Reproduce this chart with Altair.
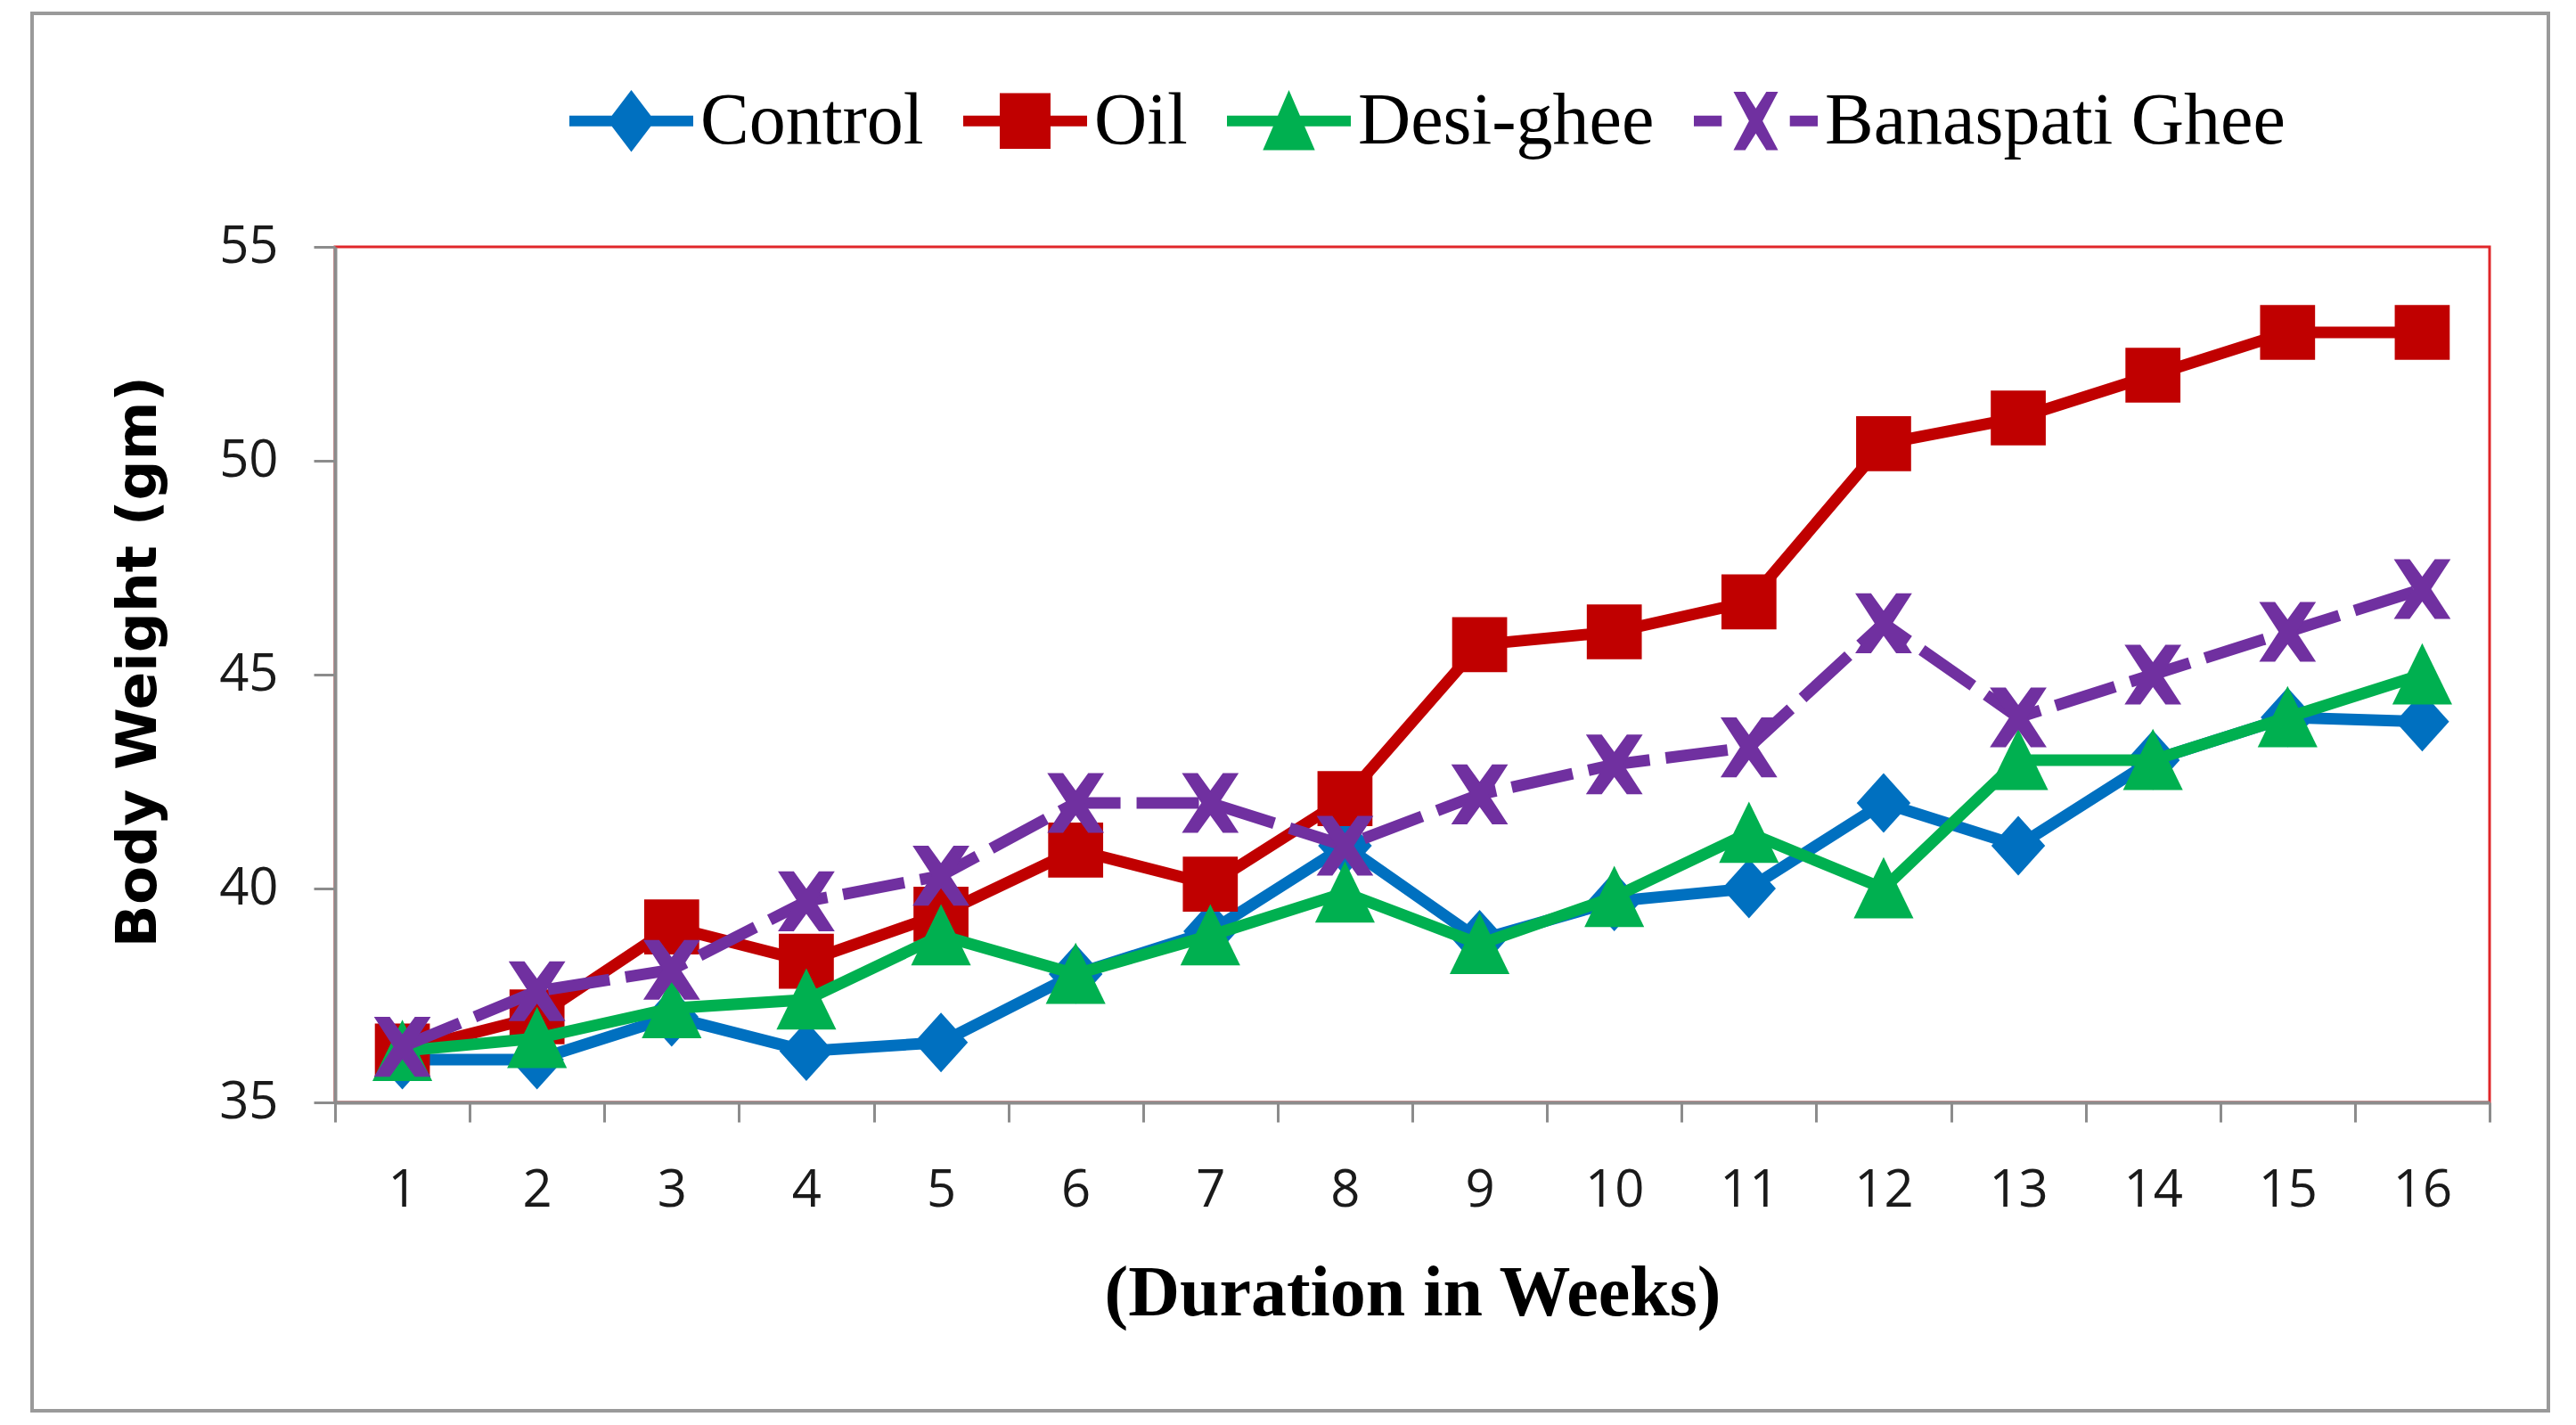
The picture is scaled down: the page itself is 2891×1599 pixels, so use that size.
import altair as alt
import pandas as pd

# ---------------- data ----------------
weeks = list(range(1, 17))
series_names = ["Control", "Oil", "Desi-ghee", "Banaspati Ghee"]
control = [36.0, 36.0, 37.0, 36.2, 36.4, 38.0, 39.0, 41.0, 38.8, 39.7, 40.0, 42.0, 41.0, 43.0, 44.0, 43.9]
oil = [36.2, 37.0, 39.1, 38.3, 39.4, 40.9, 40.1, 42.1, 45.7, 46.0, 46.7, 50.4, 51.0, 52.0, 53.0, 53.0]
desi_ghee = [36.2, 36.5, 37.2, 37.4, 38.9, 38.0, 38.9, 39.9, 38.7, 39.8, 41.3, 40.0, 43.0, 43.0, 44.0, 45.0]
banaspati = [36.3, 37.6, 38.1, 39.7, 40.3, 42.0, 42.0, 41.0, 42.2, 42.9, 43.3, 46.2, 44.0, 45.0, 46.0, 47.0]
y_ticks = [35, 40, 45, 50, 55]

colors = ["#0070C0", "#C00000", "#00B050", "#7030A0"]

rows = []
for name, vals in zip(series_names, [control, oil, desi_ghee, banaspati]):
    for w, v in zip(weeks, vals):
        rows.append({"week": w, "weight": v, "series": name})
df = pd.DataFrame(rows)

# ---------------- marker shapes (unit square paths) ----------------
X_PATH = ("M-0.95,-1L-0.42,-1L0,-0.42L0.42,-1L0.95,-1L0.3,0L0.95,1L0.42,1"
          "L0,0.42L-0.42,1L-0.95,1L-0.3,0Z")
marker_paths = {
    "Control": "M0,-1L0.9,0L0,1L-0.9,0Z",
    "Oil": "M-0.92,-0.92H0.92V0.92H-0.92Z",
    "Desi-ghee": "M0,-1.05L1,1.0H-1Z",
    "Banaspati Ghee": X_PATH,
}

LINE = "M-1,-0.085H1V0.085H-1Z"
legend_paths = [
    LINE + "M0,-0.5L0.38,0L0,0.5L-0.38,0Z",
    LINE + "M-0.41,-0.45H0.41V0.45H-0.41Z",
    LINE + "M0,-0.5L0.42,0.47H-0.42Z",
    "M-1,-0.085H-0.55V0.085H-1ZM0.55,-0.085H1V0.085H0.55Z"
    "M-0.36,-0.47L-0.17,-0.47L0,-0.2L0.17,-0.47L0.36,-0.47L0.11,0L0.36,0.47L0.17,0.47"
    "L0,0.2L-0.17,0.47L-0.36,0.47L-0.11,0Z",
]

PLOT_W, PLOT_H = 2418, 960
GRAY = "#8c8c8c"

x_enc = alt.X(
    "week:O",
    scale=alt.Scale(type="band", domain=weeks, paddingInner=0, paddingOuter=0),
    bandPosition=0.5,
    axis=alt.Axis(
        title="(Duration in Weeks)",
        labelAngle=0,
        tickBand="extent",
        tickSize=22,
        tickWidth=3,
        tickColor=GRAY,
        domainColor=GRAY,
        domainWidth=4,
        labelFont="Open Sans",
        labelFontSize=58,
        labelColor="#1a1a1a",
        labelPadding=48,
        titleFont="Liberation Serif",
        titleFontWeight="bold",
        titleFontSize=80,
        titleColor="#000000",
        titleX=PLOT_W / 2,
        titleY=214,
        titleBaseline="middle",
        grid=False,
    ),
)
y_enc = alt.Y(
    "weight:Q",
    scale=alt.Scale(domain=[35, 55], nice=False, zero=False),
    axis=alt.Axis(
        title="Body Weight (gm)",
        values=y_ticks,
        tickSize=24,
        tickWidth=3,
        tickColor=GRAY,
        domainColor=GRAY,
        domainWidth=4,
        labelFont="Open Sans",
        labelFontSize=58,
        labelColor="#1a1a1a",
        labelPadding=40,
        titleFont="DejaVu Sans",
        titleFontWeight="bold",
        titleFontSize=63,
        titleColor="#000000",
        titleX=-221,
        titleY=PLOT_H / 2 - 15,
        titleBaseline="middle",
        grid=False,
    ),
)

base = alt.Chart(df)
layers = []

# outer chart-area border (decoration)
border = alt.Chart(pd.DataFrame({"a": [0]})).mark_rect(
    fillOpacity=0, stroke="#9a9a9a", strokeWidth=4
).encode(
    x=alt.value(36 - 376), x2=alt.value(2860 - 376),
    y=alt.value(15 - 277), y2=alt.value(1583 - 277),
)
layers.append(border)

for name, col in zip(series_names, colors):
    sub = base.transform_filter(alt.datum.series == name)
    line_kwargs = dict(color=col, strokeWidth=13)
    if name == "Banaspati Ghee":
        line_kwargs["strokeDash"] = [70, 18]
    layers.append(sub.mark_line(**line_kwargs).encode(x=x_enc, y=y_enc))
    layers.append(
        sub.mark_point(
            shape=marker_paths[name], filled=True, size=4500,
            color=col, opacity=1, strokeWidth=0,
        ).encode(x=x_enc, y=y_enc)
    )

legend_def = alt.Legend(
    title=None,
    orient="none",
    legendX=263,
    legendY=-211,
    direction="horizontal",
    symbolSize=19321,
    symbolStrokeWidth=0,
    labelFont="Liberation Serif",
    labelFontSize=82,
    labelColor="#000000",
    labelOffset=8,
    columnPadding=44,
    padding=0,
    labelLimit=1000,
)
legend_layer = base.transform_filter("false").mark_point(
    filled=True, size=19321, strokeWidth=0, opacity=1
).encode(
    color=alt.Color("series:N", scale=alt.Scale(domain=series_names, range=colors), legend=legend_def),
    shape=alt.Shape("series:N", scale=alt.Scale(domain=series_names, range=legend_paths), legend=legend_def),
)
layers.append(legend_layer)

chart = alt.layer(*layers).properties(
    width=PLOT_W,
    height=PLOT_H,
    autosize=alt.AutoSizeParams(type="none"),
    padding={"left": 368, "top": 269, "right": 89, "bottom": 354},
    background="white",
).configure_view(
    stroke="#E0262A", strokeWidth=3
)

chart.save("out.html", embed_options={"renderer": "svg", "actions": False})
